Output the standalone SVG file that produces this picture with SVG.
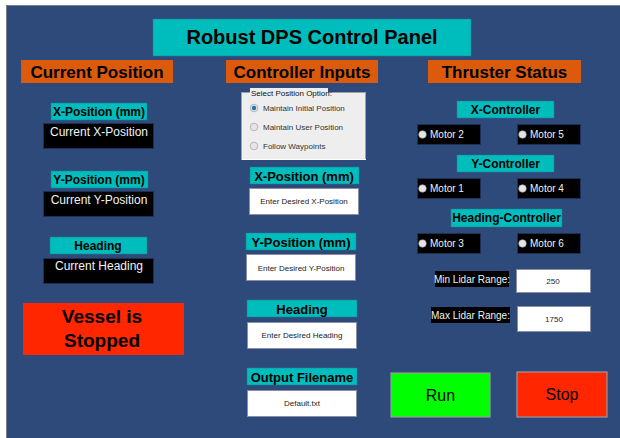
<svg xmlns="http://www.w3.org/2000/svg" width="620" height="438" viewBox="0 0 620 438">
<style>
text{font-family:"Liberation Sans",Arial,sans-serif}
.hdr{fill:#DC5A0C}
.hdrt{font-size:17px;font-weight:bold;fill:#000;text-anchor:middle}
.cy{fill:#00BDBD;stroke:#1E7F8A;stroke-width:0.5}
.cyt{font-size:12px;font-weight:bold;fill:#000;text-anchor:middle}
.cyt2{font-size:13px;font-weight:bold;fill:#000;text-anchor:middle}
.blk{fill:#000;stroke:#1E2F55;stroke-width:1}
.blkt{font-size:12px;fill:#F2F2F2;text-anchor:middle}
.wh{fill:#FFF;stroke:#8A8FA5;stroke-width:1}
.wht{font-size:8px;fill:#222;text-anchor:middle}
.mot{font-size:10px;fill:#F2F2F2}
.led{fill:#E4E4E4;stroke:#999;stroke-width:0.6}
.rad{font-size:8px;fill:#333}
.radc{fill:#E6E6E6;stroke:#A8A8A8;stroke-width:0.8}
.btn{stroke:#9A9A9A;stroke-width:1.2}
.btnt{font-size:16px;fill:#000;text-anchor:middle}
</style>
<rect x="0" y="0" width="620" height="438" fill="#FFFFFF"/>
<rect x="6" y="5" width="614" height="433" fill="#2E4A7B"/>
<line x1="6" y1="5.5" x2="620" y2="5.5" stroke="#7A7F8A" stroke-width="1"/>
<line x1="6.5" y1="5" x2="6.5" y2="438" stroke="#7A7F8A" stroke-width="1"/>

<g id="title">
<rect x="153" y="19" width="318" height="37" fill="#00BDBD" stroke="#1E7F8A" stroke-width="0.5"/>
<text x="312" y="44" font-size="20" font-weight="bold" text-anchor="middle" fill="#000">Robust DPS Control Panel</text>
</g>

<g id="current-position-header">
<rect class="hdr" x="21" y="60" width="152" height="23"/>
<text class="hdrt" x="97" y="78">Current Position</text>
</g>
<g id="cur-x">
<rect class="cy" x="51" y="103" width="96" height="17"/>
<text class="cyt" x="99" y="116">X-Position (mm)</text>
<rect class="blk" x="43.5" y="123.5" width="110" height="25"/>
<text class="blkt" x="99" y="136">Current X-Position</text>
</g>
<g id="cur-y">
<rect class="cy" x="51" y="171" width="97" height="17"/>
<text class="cyt" x="99" y="184">Y-Position (mm)</text>
<rect class="blk" x="43.5" y="191.5" width="110" height="25"/>
<text class="blkt" x="99" y="204">Current Y-Position</text>
</g>
<g id="cur-heading">
<rect class="cy" x="50" y="237" width="97" height="17"/>
<text class="cyt" x="98" y="250">Heading</text>
<rect class="blk" x="43.5" y="258.5" width="110" height="25"/>
<text class="blkt" x="99" y="270">Current Heading</text>
</g>
<g id="vessel-status">
<rect x="23" y="303" width="161" height="52" fill="#FF2600"/>
<text x="102" y="323" font-size="19" font-weight="bold" text-anchor="middle" fill="#000">Vessel is</text>
<text x="102" y="347" font-size="19" font-weight="bold" text-anchor="middle" fill="#000">Stopped</text>
</g>

<g id="controller-inputs-header">
<rect class="hdr" x="226" y="60" width="152" height="23"/>
<text class="hdrt" x="302" y="78">Controller Inputs</text>
</g>
<g id="position-option">
<rect x="241.5" y="92.5" width="124" height="67" fill="#EEEEEE" stroke="#A0A0A0" stroke-width="1"/>
<line x1="242" y1="159.5" x2="366" y2="159.5" stroke="#FFFFFF" stroke-width="1"/>
<rect x="250" y="88" width="78" height="9" fill="#EEEEEE"/>
<text x="251" y="95.5" font-size="8" fill="#111">Select Position Option:</text>
<circle class="radc" cx="254" cy="108" r="3.8"/>
<circle cx="254" cy="108" r="2.2" fill="#1F78B4"/>
<text class="rad" x="263" y="110.5">Maintain Initial Position</text>
<circle class="radc" cx="254" cy="127" r="3.8"/>
<text class="rad" x="263" y="129.5">Maintain User Position</text>
<circle class="radc" cx="254" cy="146" r="3.8"/>
<text class="rad" x="263" y="148.5">Follow Waypoints</text>
</g>
<g id="in-x">
<rect class="cy" x="250" y="167" width="109" height="17"/>
<text class="cyt2" x="304" y="180.5">X-Position (mm)</text>
<rect class="wh" x="249.5" y="188.5" width="109" height="26"/>
<text class="wht" x="304" y="204">Enter Desired X-Position</text>
</g>
<g id="in-y">
<rect class="cy" x="246" y="233" width="110" height="17"/>
<text class="cyt2" x="301" y="246.5">Y-Position (mm)</text>
<rect class="wh" x="246.5" y="254.5" width="109" height="26"/>
<text class="wht" x="301" y="271">Enter Desired Y-Position</text>
</g>
<g id="in-heading">
<rect class="cy" x="247" y="300" width="110" height="17"/>
<text class="cyt2" x="302" y="313.5">Heading</text>
<rect class="wh" x="247.5" y="322.5" width="109" height="26"/>
<text class="wht" x="302" y="338">Enter Desired Heading</text>
</g>
<g id="in-filename">
<rect class="cy" x="247" y="368" width="110" height="17"/>
<text class="cyt2" x="302" y="381.5">Output Filename</text>
<rect class="wh" x="247.5" y="390.5" width="109" height="26"/>
<text class="wht" x="302" y="406">Default.txt</text>
</g>

<g id="thruster-status-header">
<rect class="hdr" x="428" y="60" width="153" height="23"/>
<text class="hdrt" x="504.5" y="78">Thruster Status</text>
</g>
<g id="x-controller">
<rect class="cy" x="457" y="101" width="97" height="17"/>
<text class="cyt" x="505.5" y="114">X-Controller</text>
</g>
<g id="motor2">
<rect class="blk" x="417.5" y="124.5" width="63" height="20"/>
<circle class="led" cx="422.5" cy="134.5" r="3.8"/>
<text class="mot" x="430" y="138">Motor 2</text>
</g>
<g id="motor5">
<rect class="blk" x="517.5" y="124.5" width="63" height="20"/>
<circle class="led" cx="522.5" cy="134.5" r="3.8"/>
<text class="mot" x="530" y="138">Motor 5</text>
</g>
<g id="y-controller">
<rect class="cy" x="457" y="155" width="97" height="17"/>
<text class="cyt" x="505.5" y="168">Y-Controller</text>
</g>
<g id="motor1">
<rect class="blk" x="417.5" y="178.5" width="63" height="20"/>
<circle class="led" cx="422.5" cy="188.5" r="3.8"/>
<text class="mot" x="430" y="192">Motor 1</text>
</g>
<g id="motor4">
<rect class="blk" x="517.5" y="178.5" width="63" height="20"/>
<circle class="led" cx="522.5" cy="188.5" r="3.8"/>
<text class="mot" x="530" y="192">Motor 4</text>
</g>
<g id="heading-controller">
<rect class="cy" x="451" y="209" width="111" height="18"/>
<text class="cyt" x="506.5" y="222">Heading-Controller</text>
</g>
<g id="motor3">
<rect class="blk" x="417.5" y="233.5" width="63" height="20"/>
<circle class="led" cx="422.5" cy="243.5" r="3.8"/>
<text class="mot" x="430" y="247">Motor 3</text>
</g>
<g id="motor6">
<rect class="blk" x="517.5" y="233.5" width="63" height="20"/>
<circle class="led" cx="522.5" cy="243.5" r="3.8"/>
<text class="mot" x="530" y="247">Motor 6</text>
</g>
<g id="min-lidar">
<rect x="435" y="271" width="74" height="16" fill="#000"/>
<text class="mot" x="472" y="282.5" text-anchor="middle">Min Lidar Range:</text>
<rect class="wh" x="516.5" y="269.5" width="74" height="23"/>
<text class="wht" x="553" y="284">250</text>
</g>
<g id="max-lidar">
<rect x="431" y="307" width="79" height="16" fill="#000"/>
<text class="mot" x="470.5" y="318.5" text-anchor="middle">Max Lidar Range:</text>
<rect class="wh" x="517.5" y="306.5" width="73" height="25"/>
<text class="wht" x="554" y="322">1750</text>
</g>
<g id="run-button">
<rect class="btn" x="391" y="373" width="99" height="44" fill="#00FF00"/>
<text class="btnt" x="440.5" y="401">Run</text>
</g>
<g id="stop-button">
<rect class="btn" x="517" y="372" width="90" height="45" fill="#FF2600"/>
<text class="btnt" x="562" y="400">Stop</text>
</g>
<g id="connectors"></g>
</svg>
